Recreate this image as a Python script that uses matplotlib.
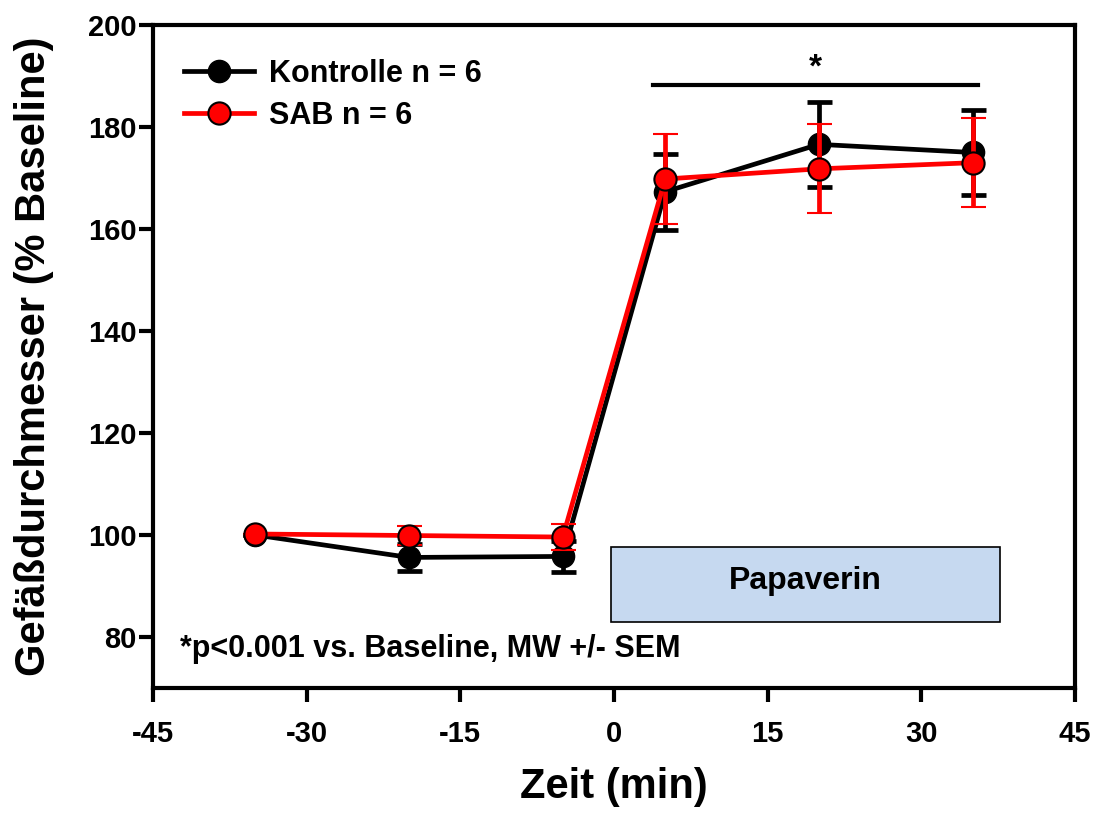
import matplotlib
matplotlib.use('Agg')
import matplotlib.pyplot as plt
from matplotlib.patches import Rectangle
from matplotlib.lines import Line2D

# data
zeit = [-35, -20, -5, 5, 20, 35]
kontrolle = [100.0, 95.6, 95.8, 167.3, 176.6, 175.0]
kontrolle_sem = [0.0, 2.7, 3.0, 7.4, 8.3, 8.4]
sab = [100.2, 99.9, 99.6, 169.8, 171.8, 173.0]
sab_sem = [0.0, 1.8, 2.5, 8.8, 8.7, 8.7]

x_ticks = [-45, -30, -15, 0, 15, 30, 45]
y_ticks = [80, 100, 120, 140, 160, 180, 200]

sig_start, sig_end, sig_y = 3.8, 35.5, 188.3
papaverin_start, papaverin_end = -0.3, 37.7
papaverin_low, papaverin_high = 83.0, 97.6

plt.rcParams['font.family'] = ['Liberation Sans', 'DejaVu Sans']
plt.rcParams['font.weight'] = 'bold'
plt.rcParams['axes.unicode_minus'] = False

fig = plt.figure(figsize=(10.97, 8.17), dpi=100)
ax = fig.add_axes([153 / 1097, 1 - 688 / 817, 922 / 1097, 663 / 817])

ax.add_patch(Rectangle((papaverin_start, papaverin_low), papaverin_end - papaverin_start,
                       papaverin_high - papaverin_low, facecolor='#c6d9f0',
                       edgecolor='black', linewidth=1.2, zorder=1))
ax.text((papaverin_start + papaverin_end) / 2, (papaverin_low + papaverin_high) / 2 + 0.6,
        'Papaverin', ha='center', va='center', fontsize=23, fontweight='bold', zorder=2)

lw = 3.4
ax.errorbar(zeit, kontrolle, yerr=kontrolle_sem, color='black', linewidth=lw,
            elinewidth=lw, capsize=9, capthick=lw, marker='o', markersize=16,
            markerfacecolor='black', markeredgecolor='black', zorder=3)
ax.errorbar(zeit, sab, yerr=sab_sem, color='red', linewidth=lw,
            elinewidth=lw, capsize=9, capthick=lw, marker='o', markersize=16,
            markerfacecolor='red', markeredgecolor='black', markeredgewidth=1.5,
            zorder=4)

ax.plot([sig_start, sig_end], [sig_y, sig_y], color='black', linewidth=3)
ax.text((sig_start + sig_end) / 2, sig_y + 0.3, '*', ha='center', va='bottom',
        fontsize=24, fontweight='bold')

ax.text(-42.4, 76.0, '*p<0.001 vs. Baseline, MW +/- SEM', fontsize=22, fontweight='bold',
        ha='left', va='baseline')

ax.set_xlim(-45, 45)
ax.set_ylim(70, 200)
ax.set_xticks(x_ticks)
ax.set_yticks(y_ticks)
ax.tick_params(axis='both', direction='out', length=10, width=3, labelsize=21)
ax.tick_params(axis='x', pad=13)
ax.tick_params(axis='y', pad=2)
for lab in ax.get_xticklabels() + ax.get_yticklabels():
    lab.set_fontweight('bold')
for s in ax.spines.values():
    s.set_linewidth(3)

ax.set_xlabel('Zeit (min)', fontsize=30, fontweight='bold', labelpad=14)
ax.set_ylabel('Gefäßdurchmesser (% Baseline)', fontsize=30, fontweight='bold', labelpad=24)

handles = [
    Line2D([], [], color='black', linewidth=lw, marker='o', markersize=16,
           markerfacecolor='black', markeredgecolor='black'),
    Line2D([], [], color='red', linewidth=lw, marker='o', markersize=16,
           markerfacecolor='red', markeredgecolor='black', markeredgewidth=1.5),
]
leg = ax.legend(handles, ['Kontrolle n = 6', 'SAB n = 6'], loc='upper left',
                bbox_to_anchor=(0.0, 0.995), frameon=False, fontsize=22,
                handlelength=2.3, handletextpad=0.5, borderaxespad=0.6,
                labelspacing=0.4)
for t in leg.get_texts():
    t.set_fontweight('bold')

fig.savefig('out.png', dpi=100)
